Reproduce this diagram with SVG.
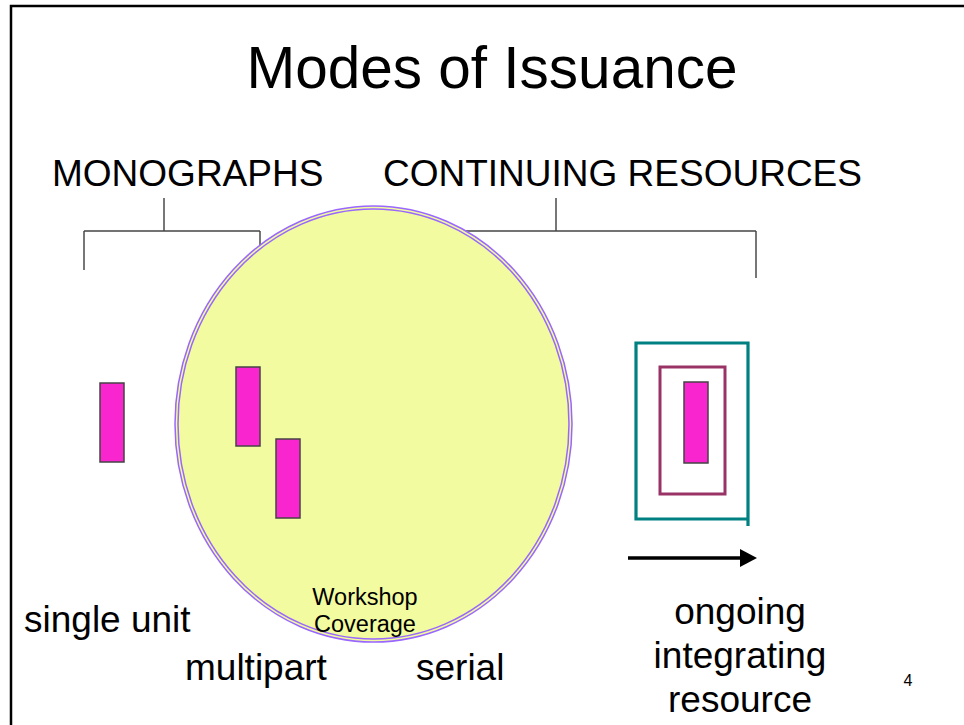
<svg xmlns="http://www.w3.org/2000/svg" width="964" height="725" viewBox="0 0 964 725">
<style>
text{font-family:"Liberation Sans",Arial,sans-serif;fill:#000}
.lbl{font-size:37px}
.brk{stroke:#777;stroke-width:2;fill:none}
.brkh{stroke:#444;stroke-width:1.6;fill:none}
.doc{fill:#f926cf;stroke:#444;stroke-width:1.5}
</style>
<rect width="964" height="725" fill="#fff"/>
<path d="M11,725 V6 H964" fill="none" stroke="#000" stroke-width="2.5"/>
<text x="492" y="88" font-size="58.5" text-anchor="middle">Modes of Issuance</text>
<g id="connectors">
<path class="brk" d="M164,198 V231 M84,231 V270 M260,231 V250"/>
<path class="brkh" d="M84,231 H260"/>
<path class="brk" d="M556,198 V231 M756,231 V278"/>
<path class="brkh" d="M440,231 H756"/>
</g>
<g id="coverage">
<ellipse cx="373.5" cy="424" rx="198.5" ry="218" fill="#f2fb9f" stroke="#9966ff" stroke-width="1.5"/>
<ellipse cx="373.5" cy="424" rx="195.5" ry="215" fill="none" stroke="#9966ff" stroke-width="1.5"/>
<text x="365" y="605" font-size="23.5" text-anchor="middle">Workshop</text>
<text x="365" y="632" font-size="23.5" text-anchor="middle">Coverage</text>
</g>
<text class="lbl" x="52" y="186">MONOGRAPHS</text>
<text class="lbl" x="383" y="186">CONTINUING RESOURCES</text>
<g id="single-unit">
<rect class="doc" x="100" y="383" width="24" height="79"/>
<text class="lbl" x="24" y="632">single unit</text>
</g>
<g id="multipart">
<rect class="doc" x="236" y="367" width="24" height="79"/>
<rect class="doc" x="276" y="439" width="24" height="79"/>
<text class="lbl" x="185" y="680">multipart</text>
</g>
<g id="serial">
<text class="lbl" x="416" y="680">serial</text>
</g>
<g id="integrating">
<path d="M748,526 V343 H636 V519 H748" fill="none" stroke="#008080" stroke-width="3.2"/>
<rect x="660" y="367" width="65" height="127" fill="none" stroke="#993366" stroke-width="3"/>
<rect class="doc" x="684" y="382" width="24" height="81"/>
<path d="M628,558 H742" stroke="#000" stroke-width="3.5"/>
<path d="M740,549 L757,558 L740,567 Z" fill="#000"/>
<text class="lbl" x="740" y="624" text-anchor="middle">ongoing</text>
<text class="lbl" x="740" y="668" text-anchor="middle">integrating</text>
<text class="lbl" x="740" y="712" text-anchor="middle">resource</text>
</g>
<text x="908" y="686" font-size="16" text-anchor="middle">4</text>
</svg>
